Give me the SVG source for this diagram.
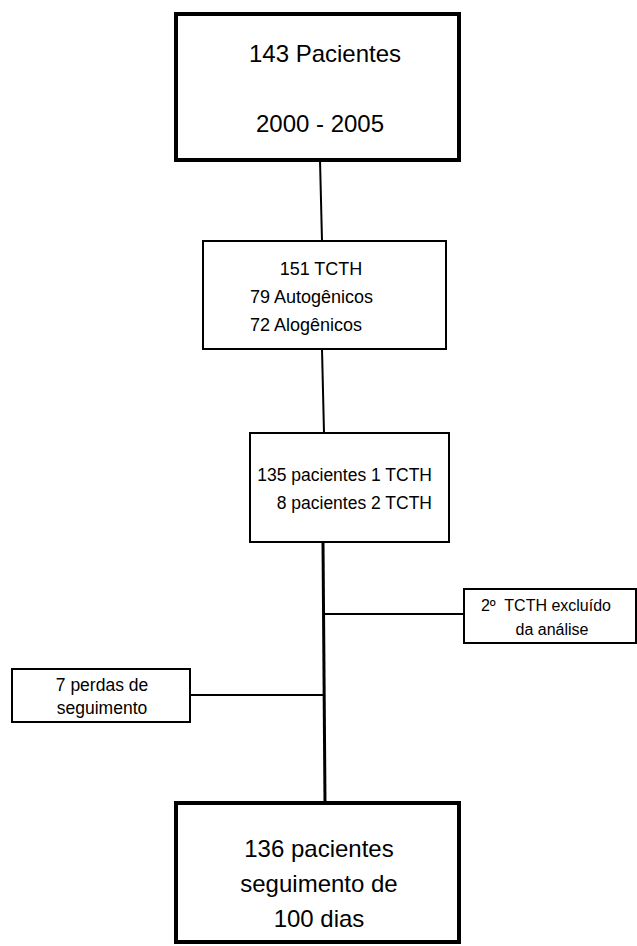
<svg xmlns="http://www.w3.org/2000/svg" width="637" height="946" viewBox="0 0 637 946">
<style>
  text { font-family: "Liberation Sans", Arial, sans-serif; fill: #000; }
  .thick { fill: #fff; stroke: #000; stroke-width: 4; }
  .thin { fill: #fff; stroke: #000; stroke-width: 2; }
  .big { font-size: 24px; }
  .mid { font-size: 18px; }
  .mid2 { font-size: 17.5px; }
  .small { font-size: 16px; }
  .small2 { font-size: 17.5px; }
  .conn line { stroke: #000; stroke-width: 2; }
</style>
<g id="connectors" class="conn">
  <line x1="320" y1="160" x2="322" y2="241"/>
  <line x1="322" y1="349" x2="324" y2="433"/>
  <line x1="323" y1="542" x2="325" y2="803" style="stroke-width:3"/>
  <line x1="323" y1="614" x2="464" y2="614"/>
  <line x1="190" y1="695" x2="324" y2="695"/>
</g>
<g id="node-pacientes">
  <rect class="thick" x="176" y="14" width="283" height="146"/>
  <text class="big" x="325" y="62" text-anchor="middle">143 Pacientes</text>
  <text class="big" x="320" y="132" text-anchor="middle">2000 - 2005</text>
</g>
<g id="node-tcth">
  <rect class="thin" x="203" y="241" width="243" height="108"/>
  <text class="mid" x="321" y="275" text-anchor="middle">151 TCTH</text>
  <text class="mid" x="250" y="303">79 Autogênicos</text>
  <text class="mid" x="250" y="331">72 Alogênicos</text>
</g>
<g id="node-pacientes-tcth">
  <rect class="thin" x="250" y="433" width="199" height="109"/>
  <text class="mid2" x="432" y="481" text-anchor="end">135 pacientes 1 TCTH</text>
  <text class="mid2" x="432" y="509" text-anchor="end">8 pacientes 2 TCTH</text>
</g>
<g id="node-excluido">
  <rect class="thin" x="464" y="589" width="172" height="54"/>
  <text class="small" x="546" y="611" text-anchor="middle" xml:space="preserve">2º  TCTH excluído</text>
  <text class="small" x="552" y="635" text-anchor="middle">da análise</text>
</g>
<g id="node-perdas">
  <rect class="thin" x="12" y="669" width="178" height="53"/>
  <text class="small2" x="102" y="691" text-anchor="middle">7 perdas de</text>
  <text class="small2" x="102" y="714" text-anchor="middle">seguimento</text>
</g>
<g id="node-final">
  <rect class="thick" x="176" y="803" width="283" height="139"/>
  <text class="big" x="319" y="857" text-anchor="middle">136 pacientes</text>
  <text class="big" x="319" y="892" text-anchor="middle">seguimento de</text>
  <text class="big" x="319" y="927" text-anchor="middle">100 dias</text>
</g>
</svg>
